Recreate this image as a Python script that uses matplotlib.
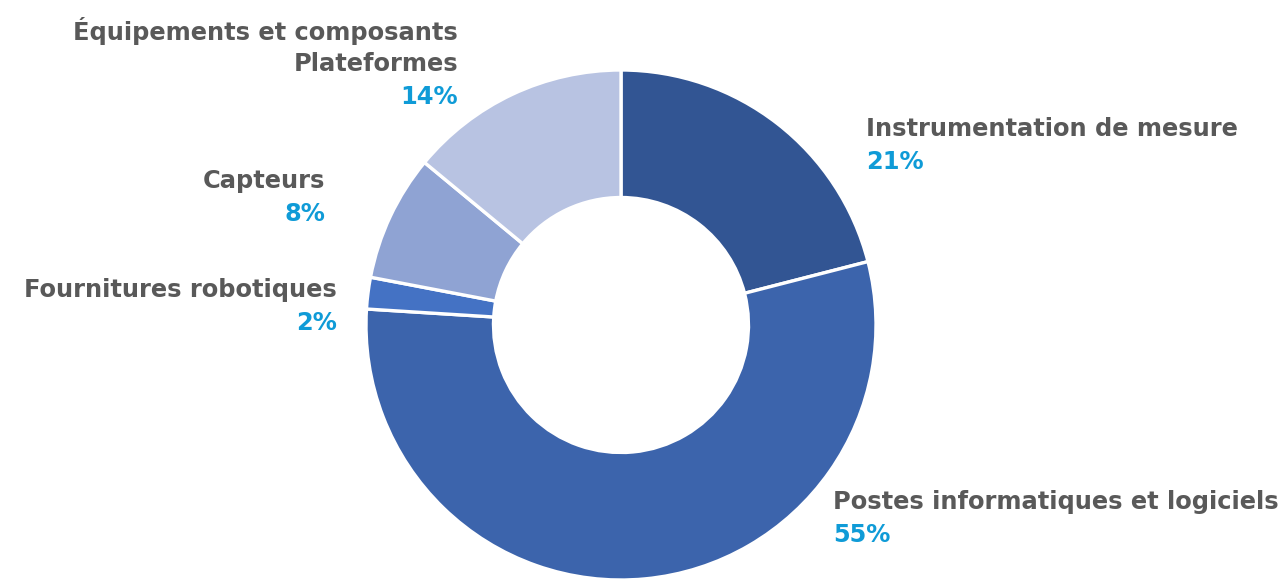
import matplotlib.pyplot as plt

# data (clockwise from 12 o'clock)
categories = ['Instrumentation de mesure', 'Postes informatiques et logiciels',
              'Fournitures robotiques', 'Capteurs',
              'Équipements et composants\nPlateformes']
shares = [21, 55, 2, 8, 14]
colors = ['#325593', '#3c64ac', '#4472c4', '#8fa3d3', '#b8c3e2']

# label anchor (pixels, from top) and alignment
label_pos = [(866, 129, 'left'), (833, 502, 'left'), (337, 290, 'right'),
             (325, 181, 'right'), (458, 31, 'right')]

W, H = 1283, 579
fig = plt.figure(figsize=(W / 100, H / 100), dpi=100)
ax = fig.add_axes([0, 0, 1, 1])

cx, cy, r = 621, H - 325, 255
ax.pie(shares, colors=colors, startangle=90, counterclock=False,
       center=(cx, cy), radius=r, frame=True,
       wedgeprops=dict(width=r * 0.5, edgecolor='white', linewidth=2.4))
ax.set_xlim(0, W)
ax.set_ylim(0, H)
ax.set_aspect('equal')
ax.axis('off')

grey = '#595959'
blue = '#0f9bd7'
fs = 17.4
lh = 33
for cat, val, (x, y, ha) in zip(categories, shares, label_pos):
    lines = cat.split('\n')
    for i, ln in enumerate(lines):
        ax.text(x, H - (y + i * lh), ln, ha=ha, va='center', fontsize=fs,
                fontweight='bold', color=grey, family='DejaVu Sans')
    ax.text(x, H - (y + len(lines) * lh), f'{val}%', ha=ha, va='center',
            fontsize=fs, fontweight='bold', color=blue, family='DejaVu Sans')

fig.savefig('out.png', dpi=100)
